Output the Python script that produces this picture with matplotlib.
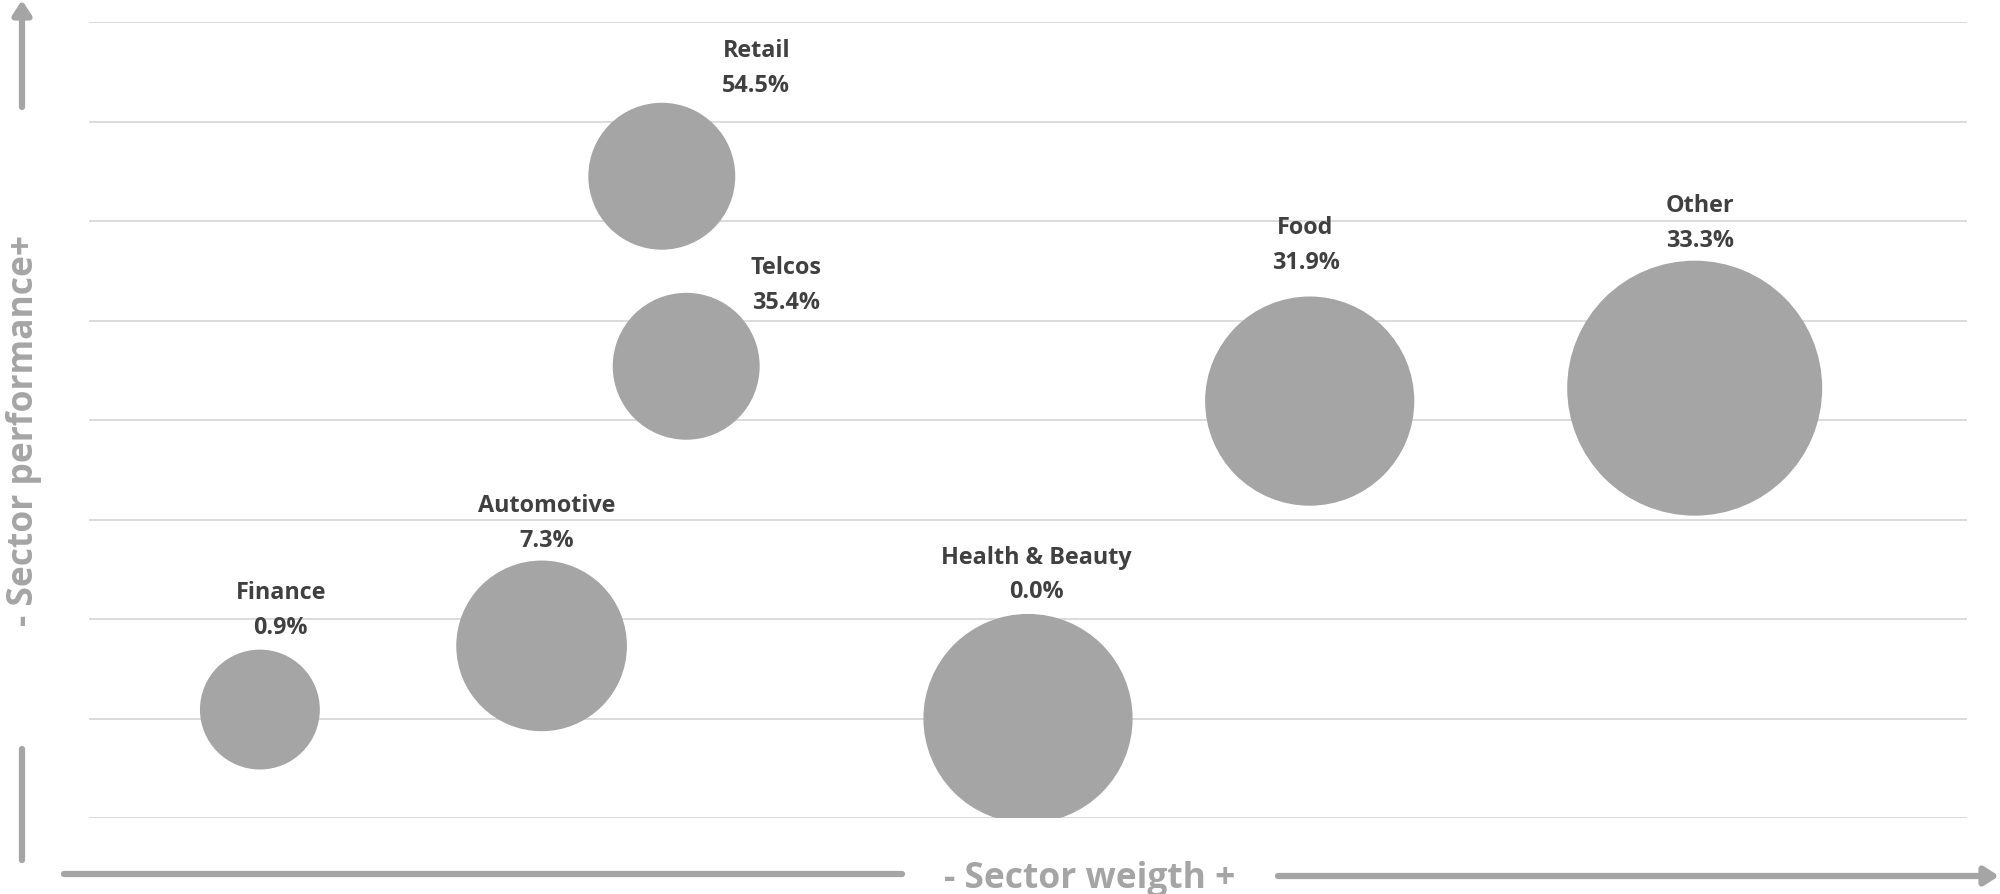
import numpy as np
import matplotlib.pyplot as plt

# sector data
sectors = ['Finance', 'Automotive', 'Retail', 'Telcos', 'Health & Beauty', 'Food', 'Other']
weight = [9.1, 24.1, 30.5, 31.8, 50.0, 65.0, 85.5]          # x position
performance = [1.09, 1.73, 6.45, 4.54, 1.0, 4.19, 4.32]     # y position
bubble = [22.1, 44.8, 33.2, 33.2, 67.3, 67.3, 100.0]        # bubble size
change = [0.9, 7.3, 54.5, 35.4, 0.0, 31.9, 33.3]            # label %

# label offsets (points) from bubble centre
lab_off = [(15, 72), (4, 89), (68, 78), (72, 59), (6, 104), (-3, 113), (4, 119)]

grey = '#A5A5A5'
txt = '#404040'
plt.rcParams['font.family'] = ['Open Sans', 'DejaVu Sans']

fig = plt.figure(figsize=(20, 8.95), dpi=100)
ax = fig.add_axes([0.0445, 0.0849, 0.939, 0.8894])
ax.set_xlim(0, 100)
ax.set_ylim(0, 8)
ax.set_yticks(np.arange(0, 9))
ax.set_xticks([])
ax.tick_params(left=False, labelleft=False)
ax.grid(axis='y', color='#D9D9D9', lw=1.3)
ax.set_axisbelow(True)
for s in ax.spines.values():
    s.set_visible(False)

# size 100 -> radius 127.5 px
smax = (2 * 127.5 * 72 / 100) ** 2
ax.scatter(weight, performance, s=np.array(bubble) / 100 * smax, color=grey,
           edgecolors='none', zorder=3)

for i, name in enumerate(sectors):
    ax.annotate(f"{name}\n{change[i]:.1f}%", (weight[i], performance[i]),
                xytext=lab_off[i], textcoords='offset points', ha='center', va='center',
                fontsize=16.8, fontweight='bold', color=txt, linespacing=1.6,
                annotation_clip=False, zorder=4)

# axis arrows drawn in figure pixels
lw = 4.5
ap = dict(arrowstyle='-|>,head_length=0.7,head_width=0.45', color=grey, lw=lw,
          shrinkA=0, shrinkB=0, mutation_scale=12)
ax.annotate('', xy=(22, 894), xytext=(22, 787), xycoords='figure pixels',
            textcoords='figure pixels', arrowprops=ap, annotation_clip=False)
ax.annotate('', xy=(1999, 18), xytext=(1278, 18), xycoords='figure pixels',
            textcoords='figure pixels', arrowprops=ap, annotation_clip=False)
ax.annotate('', xy=(22, 34), xytext=(22, 145), xycoords='figure pixels',
            textcoords='figure pixels',
            arrowprops=dict(arrowstyle='-', color=grey, lw=lw, shrinkA=0, shrinkB=0),
            annotation_clip=False)
ax.annotate('', xy=(64, 20), xytext=(902, 20), xycoords='figure pixels',
            textcoords='figure pixels',
            arrowprops=dict(arrowstyle='-', color=grey, lw=lw, shrinkA=0, shrinkB=0),
            annotation_clip=False)

fig.text(1090 / 2000, 16 / 895, '- Sector weigth +', ha='center', va='center',
         fontsize=25.5, fontweight='bold', color=grey)
fig.text(24 / 2000, 1 - 430 / 895, '- Sector performance+', ha='center', va='center',
         rotation=90, fontsize=25.5, fontweight='bold', color=grey)

fig.savefig('out.png', dpi=100, facecolor='white')
